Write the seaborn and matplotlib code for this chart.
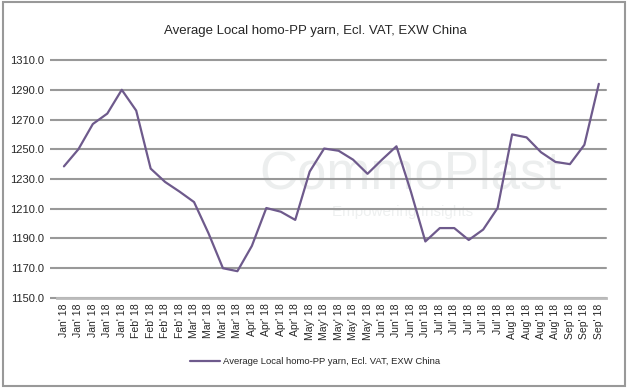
import numpy as np
import pandas as pd
import matplotlib.pyplot as plt
import seaborn as sns
from matplotlib.patches import Rectangle

# weekly prices, Jan - Sep 2018
months = ["Jan"] * 5 + ["Feb"] * 4 + ["Mar"] * 4 + ["Apr"] * 4 + ["May"] * 5 + \
         ["Jun"] * 4 + ["Jul"] * 5 + ["Aug"] * 4 + ["Sep"] * 3
tick_labels = [m + "' 18" for m in months]
prices = [1238.5, 1250, 1267, 1274, 1290, 1276, 1237, 1228, 1221.5, 1214.5,
          1193.5, 1170, 1168, 1185, 1210.5, 1208, 1202.5, 1235, 1250.5, 1249,
          1243, 1233.5, 1243, 1252, 1221.5, 1188, 1197, 1197, 1189, 1196,
          1210.5, 1260, 1258, 1248, 1241.5, 1240, 1253, 1294]
series_name = "Average Local homo-PP yarn, Ecl. VAT, EXW China"

df = pd.DataFrame({"week": np.arange(len(prices)), "price": prices})

sns.set_style("white")
plt.rcParams['font.family'] = ['Liberation Sans', 'DejaVu Sans']

fig = plt.figure(figsize=(6.3, 3.9), dpi=100)
ax = fig.add_axes([0.09, 0.236, 0.872, 0.61])

# faint watermark
ax.text(0.643, 0.46, "CommoPlast", transform=ax.transAxes, fontsize=38,
        color="#eceeee", ha="center", va="baseline", zorder=0)
ax.text(0.63, 0.39, "Empowering Insights", transform=ax.transAxes, fontsize=11,
        color="#eef0f0", ha="center", va="top", zorder=0)

sns.lineplot(data=df, x="week", y="price", ax=ax, color="#6e5a8c",
             linewidth=1.6, label=series_name, zorder=3)

ax.set_ylim(1150, 1310)
ax.set_yticks(np.arange(1150, 1311, 20))
ax.set_yticklabels([f"{v:.1f}" for v in np.arange(1150, 1311, 20)], fontsize=8)
ax.set_xlim(-0.5, len(prices) - 0.5)
ax.set_xticks(df["week"])
ax.set_xticklabels(tick_labels, rotation=90, fontsize=7.5)
ax.tick_params(axis="x", length=0, pad=4)
ax.tick_params(axis="y", length=5, color="#999999", width=1.5, pad=4, left=True)
ax.grid(axis="y", color="#999999", linewidth=1.5)
for gl in ax.get_ygridlines():
    gl.set_clip_on(False)
ax.set_xlabel("")
ax.set_ylabel("")
for s in ["top", "right", "left"]:
    ax.spines[s].set_visible(False)
ax.spines["bottom"].set_color("#bbbbbb")
ax.spines["bottom"].set_linewidth(2)

fig.suptitle("Average Local homo-PP yarn, Ecl. VAT, EXW China", y=0.935,
             fontsize=9.5)

ax.legend(loc="center", bbox_to_anchor=(0.5, 0.072), bbox_transform=fig.transFigure,
          frameon=False, prop={"size": 6.8},
          handlelength=3.2, handletextpad=0.3)

fig.patches.append(Rectangle((0.004, 0.01), 0.988, 0.984, transform=fig.transFigure,
                             fill=False, edgecolor="#999999", linewidth=1.5))

fig.savefig("out.png", dpi=100)
